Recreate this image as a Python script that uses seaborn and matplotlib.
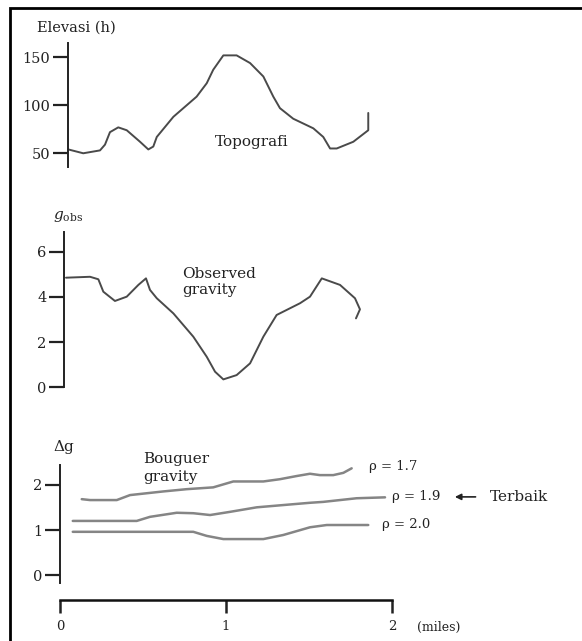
import matplotlib
matplotlib.use("Agg")
import matplotlib.pyplot as plt
import pandas as pd
import seaborn as sns
from matplotlib.lines import Line2D

# ---- profile data (distance along the line in miles) ----
topo_x = [0.050, 0.140, 0.241, 0.271, 0.301, 0.351, 0.402, 0.482, 0.532, 0.562,
          0.583, 0.683, 0.823, 0.884, 0.923, 0.984, 1.064, 1.145, 1.225, 1.285,
          1.325, 1.405, 1.526, 1.586, 1.627, 1.667, 1.767, 1.857, 1.857]
topo_h = [54, 50, 53, 59, 72, 77, 74, 62, 54, 57,
          67, 88, 109, 123, 137, 152, 152, 144, 130, 109,
          97, 86, 76, 67, 55, 55, 62, 74, 92]

obs_x = [0.036, 0.181, 0.231, 0.261, 0.331, 0.402, 0.472, 0.518, 0.542, 0.583,
         0.683, 0.803, 0.884, 0.934, 0.984, 1.064, 1.145, 1.225, 1.305, 1.446,
         1.506, 1.577, 1.687, 1.777, 1.807, 1.783]
obs_g = [4.85, 4.89, 4.78, 4.23, 3.82, 4.01, 4.53, 4.82, 4.31, 3.94,
         3.27, 2.24, 1.35, 0.69, 0.35, 0.54, 1.06, 2.24, 3.20, 3.72,
         4.01, 4.82, 4.53, 3.94, 3.45, 3.05]

b17_x = [0.131, 0.181, 0.342, 0.422, 0.622, 0.763, 0.923, 1.044, 1.225, 1.325,
         1.426, 1.506, 1.566, 1.646, 1.707, 1.757]
b17_g = [1.68, 1.66, 1.66, 1.77, 1.85, 1.90, 1.94, 2.07, 2.07, 2.12,
         2.19, 2.24, 2.21, 2.21, 2.26, 2.36]
b19_x = [0.077, 0.221, 0.462, 0.542, 0.703, 0.803, 0.904, 1.024, 1.185, 1.345,
         1.506, 1.586, 1.787, 1.958]
b19_g = [1.20, 1.20, 1.20, 1.29, 1.38, 1.37, 1.33, 1.40, 1.50, 1.55,
         1.60, 1.62, 1.70, 1.72]
b20_x = [0.077, 0.422, 0.803, 0.884, 0.984, 1.225, 1.345, 1.506, 1.607, 1.857]
b20_g = [0.96, 0.96, 0.96, 0.87, 0.80, 0.80, 0.89, 1.06, 1.11, 1.11]

densities = ["ρ = 1.7", "ρ = 1.9", "ρ = 2.0"]
topo_ticks = [50, 100, 150]
obs_ticks = [0, 2, 4, 6]
boug_ticks = [0, 1, 2]
dist_ticks = [0, 1, 2]

# ---- style ----
sns.set_theme(style="white")
plt.rcParams["font.family"] = ["DejaVu Serif", "DejaVu Sans"]
plt.rcParams["mathtext.fontset"] = "dejavuserif"
plt.rcParams["lines.solid_joinstyle"] = "round"
TXT = "#222222"
CURVE = "#4a4a4a"
BLINE = "#858585"
FS = 11        # panel captions
FS_TICK = 10.5 # y tick labels
FS_SMALL = 9.5 # density labels and distance ticks

W, H = 582, 641
fig = plt.figure(figsize=(W / 100, H / 100), dpi=100)
fig.patch.set_facecolor("white")


def fx(px):
    return px / W


def fy(py):
    return 1 - py / H


# common horizontal scale: 0 mile at x=60 px, 166 px per mile
AX_L, AX_R = 40, 575
XLIM = ((AX_L - 60) / 166, (AX_R - 60) / 166)


def make_axes(top_px, bot_px, ylim, spine_x, ticks):
    ax = fig.add_axes([fx(AX_L), fy(bot_px), (AX_R - AX_L) / W, (bot_px - top_px) / H])
    ax.set_xlim(*XLIM)
    ax.set_ylim(*ylim)
    ax.set_facecolor("none")
    for s in ("top", "right", "bottom"):
        ax.spines[s].set_visible(False)
    ax.spines["left"].set_position(("data", spine_x))
    ax.spines["left"].set_color("#222222")
    ax.spines["left"].set_linewidth(1.4)
    ax.set_yticks(ticks)
    ax.set_yticklabels([str(t) for t in ticks])
    ax.tick_params(axis="y", direction="out", length=10.5, width=1.6, pad=2,
                   labelsize=FS_TICK, colors="#222222", left=True)
    ax.set_xticks([])
    return ax


def clear_labels(ax):
    ax.set_xlabel("")
    ax.set_ylabel("")


# ---- elevation ----
ax_top = make_axes(43, 167, (35.7, 164.9), 0.046, topo_ticks)
sns.lineplot(x=topo_x, y=topo_h, ax=ax_top, sort=False, estimator=None,
             color=CURVE, lw=1.4)
clear_labels(ax_top)
fig.text(fx(37), fy(28), "Elevasi (h)", fontsize=FS - 0.5, color=TXT, ha="left", va="center")
fig.text(fx(215), fy(142), "Topografi", fontsize=FS, color=TXT, ha="left", va="center")

# ---- observed gravity ----
ax_mid = make_axes(231.7, 387.3, (0, 6.885), 0.024, obs_ticks)
sns.lineplot(x=obs_x, y=obs_g, ax=ax_mid, sort=False, estimator=None,
             color=CURVE, lw=1.4)
clear_labels(ax_mid)
fig.text(fx(53), fy(216), r"$g_{\rm obs}$", fontsize=FS, color=TXT, ha="left", va="center")
fig.text(fx(182), fy(282), "Observed\ngravity", fontsize=FS, color=TXT,
         ha="left", va="center", linespacing=1.2)

# ---- Bouguer gravity for three densities ----
ax_bot = make_axes(465, 583.3, (-0.175, 2.433), 0.0, boug_ticks)
boug = pd.concat([
    pd.DataFrame({"dist": b17_x, "dg": b17_g, "rho": densities[0]}),
    pd.DataFrame({"dist": b19_x, "dg": b19_g, "rho": densities[1]}),
    pd.DataFrame({"dist": b20_x, "dg": b20_g, "rho": densities[2]}),
], ignore_index=True)
sns.lineplot(data=boug, x="dist", y="dg", hue="rho", units="rho", ax=ax_bot,
             sort=False, estimator=None, palette=[BLINE] * 3, lw=1.8, legend=False)
clear_labels(ax_bot)

label_pos = {
    densities[0]: (b17_x[-1] + 0.105, b17_g[-1] + 0.05),
    densities[1]: (b19_x[-1] + 0.04, b19_g[-1] + 0.01),
    densities[2]: (b20_x[-1] + 0.08, b20_g[-1] + 0.02),
}
for name, (lx, ly) in label_pos.items():
    ax_bot.text(lx, ly, name, fontsize=FS_SMALL, color=TXT, ha="left", va="center")

best_y = b19_g[-1] + 0.01
ax_bot.annotate("", xy=(2.362, best_y), xytext=(2.52, best_y),
                arrowprops=dict(arrowstyle="-|>", color="#222222", lw=1.2,
                                mutation_scale=9))
ax_bot.text(2.59, best_y, "Terbaik", fontsize=FS, color=TXT, ha="left", va="center")

fig.text(fx(53), fy(447), "Δg", fontsize=FS, color=TXT, ha="left", va="center")
fig.text(fx(143), fy(468), "Bouguer\ngravity", fontsize=FS, color=TXT,
         ha="left", va="center", linespacing=1.35)

# distance axis drawn below the Bouguer panel
ax_bot.spines["bottom"].set_visible(True)
ax_bot.spines["bottom"].set_position(("outward", 12.2))
ax_bot.spines["bottom"].set_bounds(0, 2)
ax_bot.spines["bottom"].set_color("#111111")
ax_bot.spines["bottom"].set_linewidth(1.8)
ax_bot.set_xticks(dist_ticks)
ax_bot.set_xticklabels([str(t) for t in dist_ticks])
ax_bot.tick_params(axis="x", direction="out", length=9, width=1.8, pad=5,
                   labelsize=FS_SMALL, colors="#222222", bottom=True)
fig.text(fx(417), fy(627), "(miles)", fontsize=9, color=TXT, ha="left", va="center")

# frame lines on the left and top edges, meeting in the upper-left corner
fig.add_artist(Line2D([fx(10), fx(10), 1], [0, fy(7.5), fy(7.5)],
                      transform=fig.transFigure, color="black", lw=2.0,
                      solid_joinstyle="miter", solid_capstyle="butt"))

fig.savefig("out.png", dpi=100, facecolor="white")
